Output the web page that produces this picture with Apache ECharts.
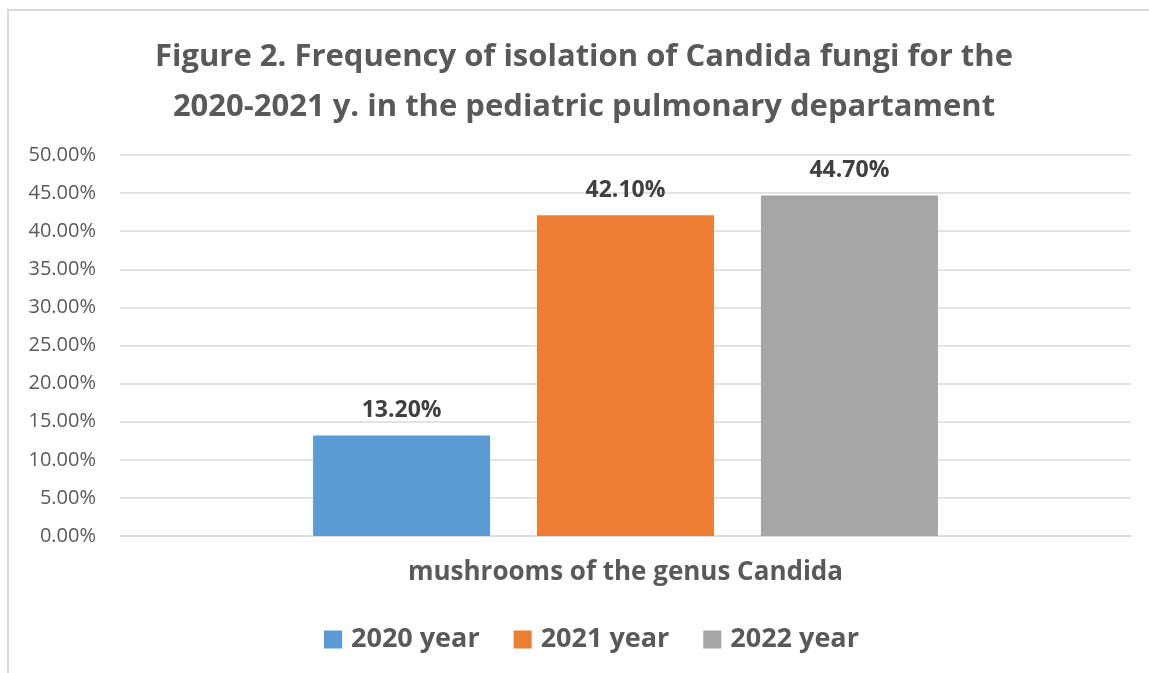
<!DOCTYPE html>
<html>
<head>
<meta charset="utf-8">
<script src="https://cdn.jsdelivr.net/npm/echarts@6/dist/echarts.min.js"></script>
<style>
  html, body { margin: 0; padding: 0; background: #fff; }
  #frame { position: absolute; left: 7px; top: 9px; width: 1160px; height: 700px; border: 2px solid #d9d9d9; }
  #chart { position: absolute; left: 0; top: 0; width: 1149px; height: 673px; }
</style>
</head>
<body>
<div id="frame"></div>
<div id="chart"></div>
<script>
// 数据
const categories = ['mushrooms of the genus Candida']
const seriesNames = ['2020 year', '2021 year', '2022 year']
const values2020 = [13.2]
const values2021 = [42.1]
const values2022 = [44.7]
const colors = ['#5B9BD5', '#ED7D31', '#A5A5A5']

const font = '"Open Sans", sans-serif'
const chart = echarts.init(document.getElementById('chart'))

const makeSeries = (name, data, color) => ({
  name,
  type: 'bar',
  data,
  barWidth: 177,
  barGap: '26.5%',
  itemStyle: { color },
  label: {
    show: true,
    position: 'top',
    distance: 13,
    formatter: p => p.value.toFixed(2) + '%',
    color: '#404040',
    fontFamily: font,
    fontWeight: 'bold',
    fontSize: 23
  }
})

chart.setOption({
  animation: false,
  title: {
    text: 'Figure 2. Frequency of isolation of Candida fungi for the\n2020-2021 y. in the pediatric pulmonary departament',
    left: 579,
    top: 27,
    textAlign: 'center',
    textStyle: {
      color: '#595959',
      fontFamily: font,
      fontWeight: 'bold',
      fontSize: 31,
      lineHeight: 50
    }
  },
  legend: {
    bottom: 15,
    left: 319,
    itemWidth: 18,
    itemHeight: 18,
    itemGap: 34,
    icon: 'rect',
    textStyle: {
      color: '#595959',
      fontFamily: font,
      fontWeight: 'bold',
      fontSize: 27,
      padding: [0, 0, 0, 4]
    }
  },
  grid: { left: 120, right: 18, top: 155, bottom: 137 },
  xAxis: {
    type: 'category',
    data: categories,
    axisLine: { lineStyle: { color: '#d9d9d9', width: 1.5 } },
    axisTick: { show: false },
    axisLabel: {
      margin: 24,
      color: '#595959',
      fontFamily: font,
      fontWeight: 'bold',
      fontSize: 26
    }
  },
  yAxis: {
    type: 'value',
    min: 0,
    max: 50,
    interval: 5,
    axisLine: { show: false },
    axisTick: { show: false },
    splitLine: { lineStyle: { color: '#d9d9d9', width: 1.5 } },
    axisLabel: {
      margin: 24,
      color: '#595959',
      fontFamily: font,
      fontSize: 20,
      formatter: v => v.toFixed(2) + '%'
    }
  },
  series: [
    makeSeries(seriesNames[0], values2020, colors[0]),
    makeSeries(seriesNames[1], values2021, colors[1]),
    makeSeries(seriesNames[2], values2022, colors[2])
  ]
})
</script>
</body>
</html>
